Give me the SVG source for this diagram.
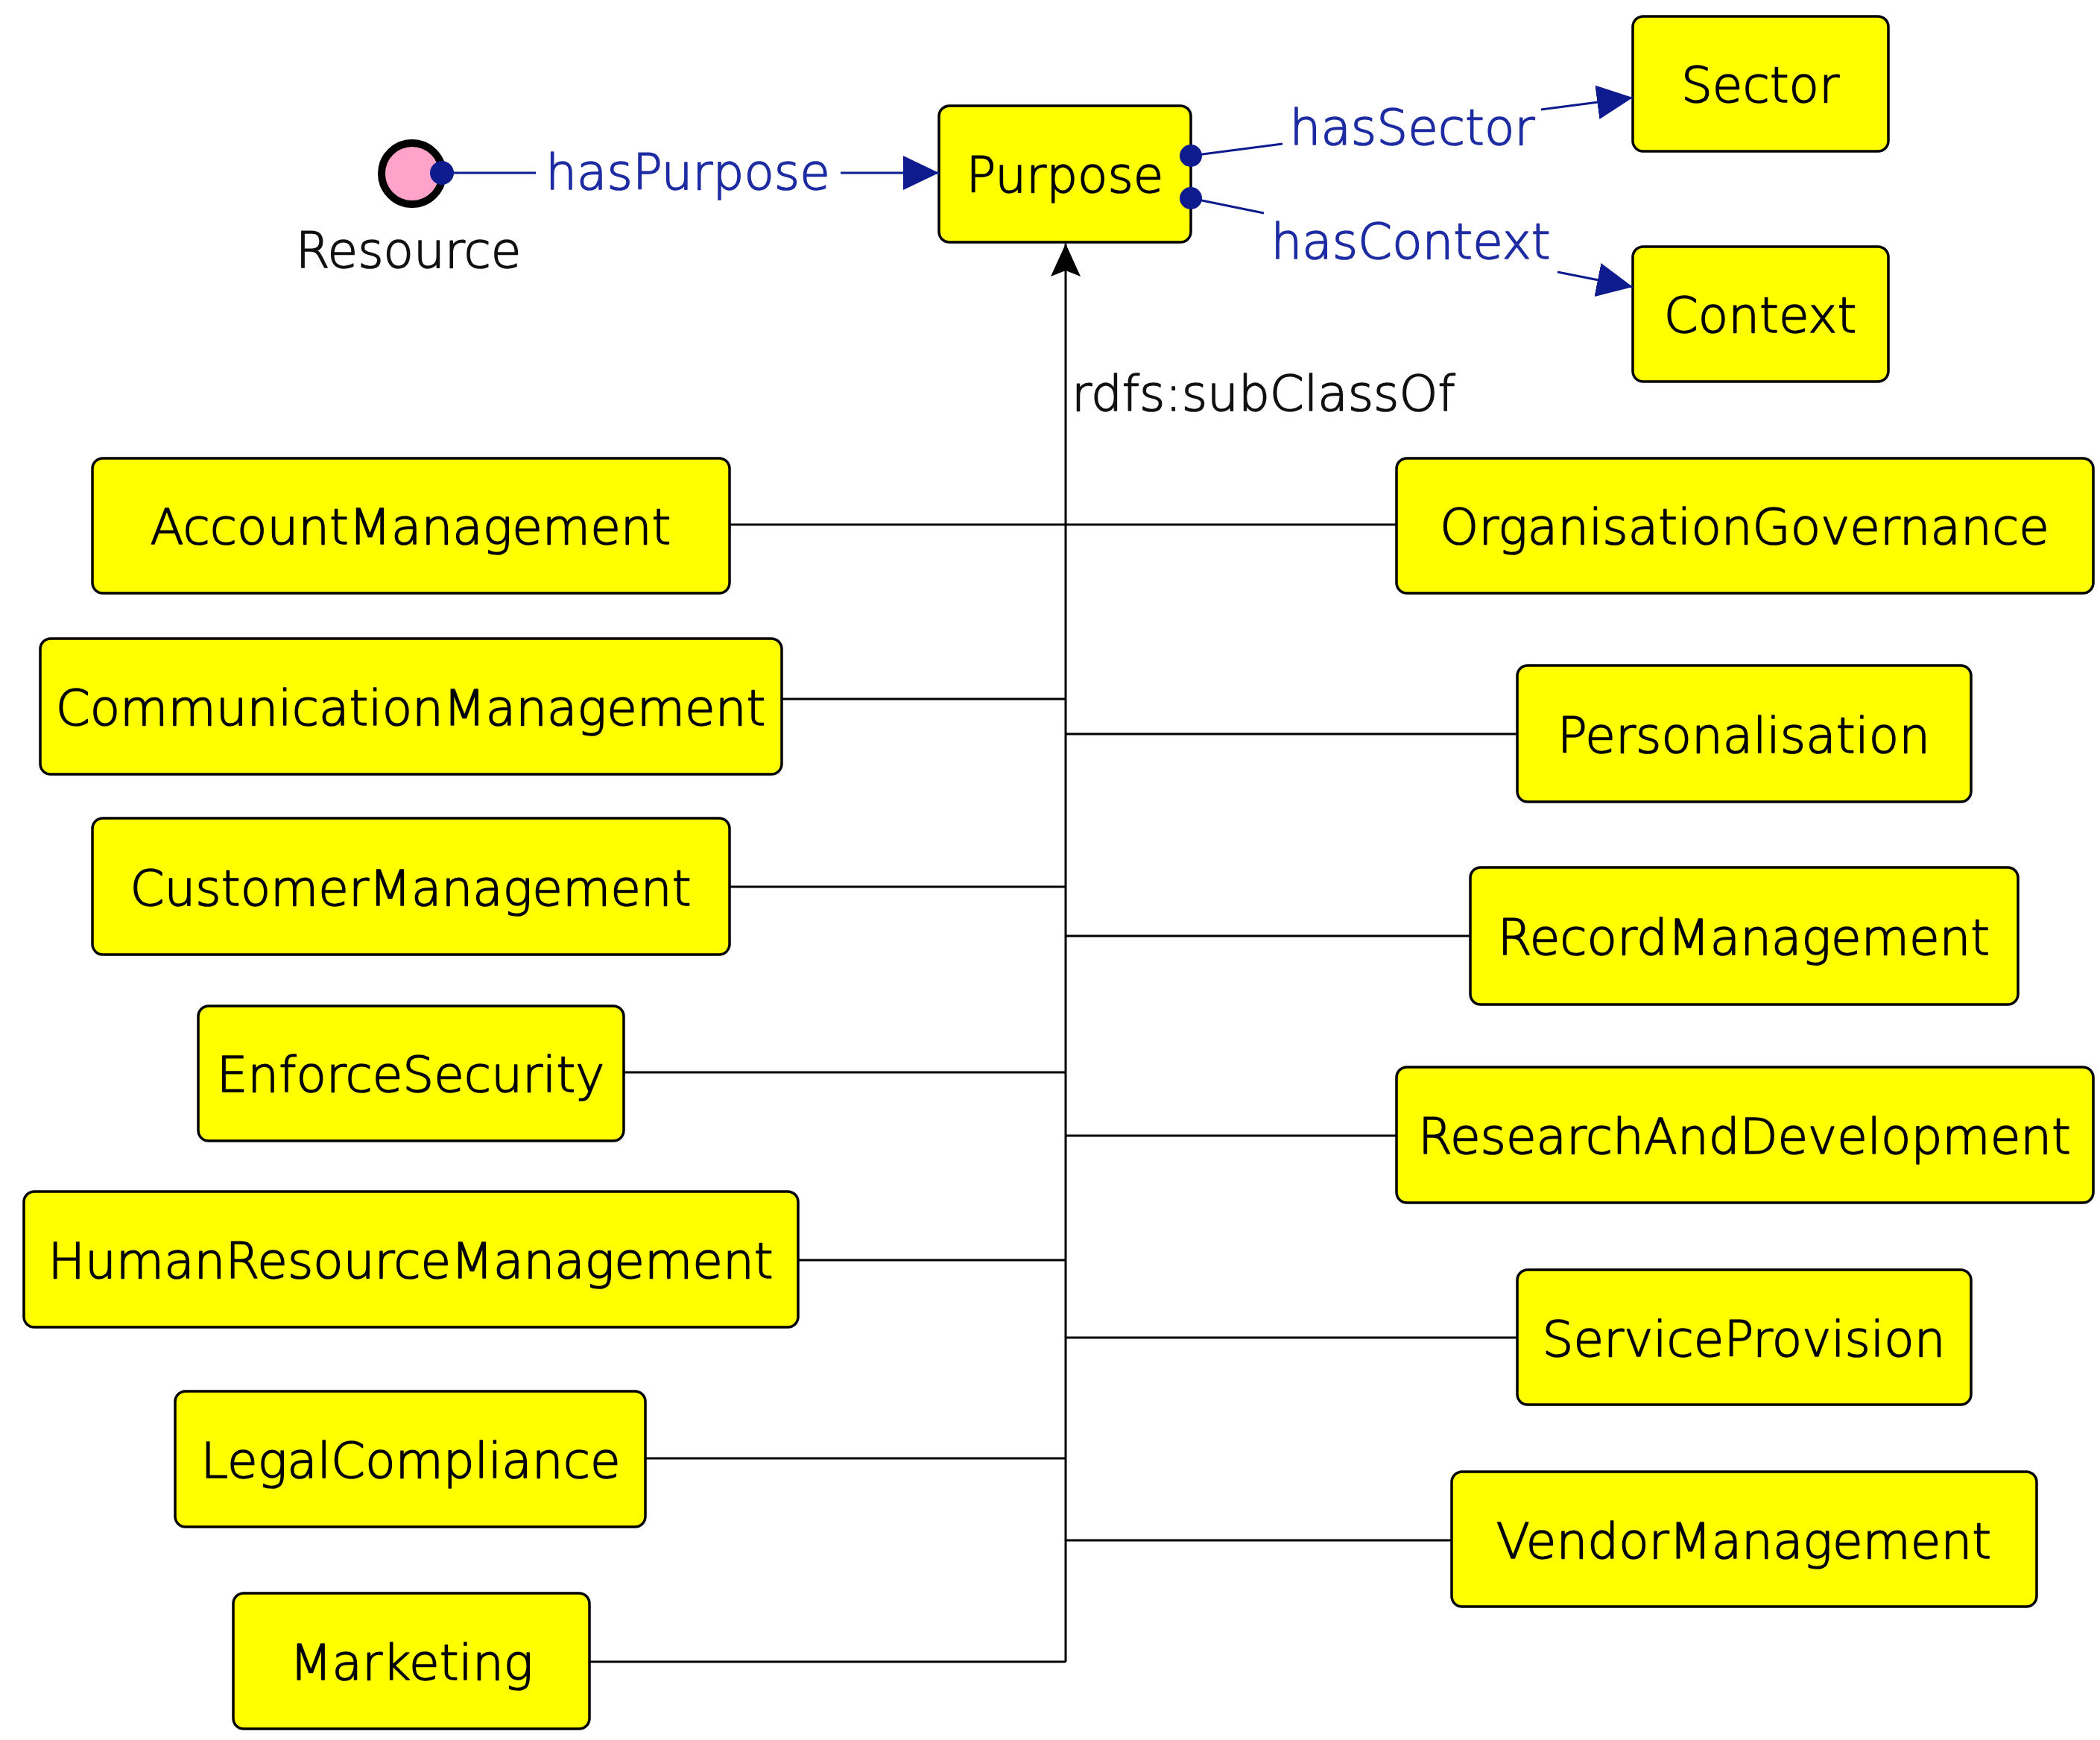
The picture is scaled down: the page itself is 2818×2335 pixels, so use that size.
<svg xmlns="http://www.w3.org/2000/svg" width="2818" height="2335" viewBox="0 0 2818 2335">
  <style>
    .cls rect { fill: #ffff00; stroke: #000; stroke-width: 3.5; }
    .cls text, .lbl { font-family: "DejaVu Sans", "Liberation Sans", sans-serif; font-size: 66px; font-weight: 200; stroke-width: 1.6; stroke-linejoin: round; }
    .cls text { fill: #000; stroke: #000; text-anchor: middle; }
    .sub { fill: none; stroke: #000; stroke-width: 3; }
    .prop { fill: none; stroke: #0d1b8f; stroke-width: 3; }
    .dot { fill: #0d1b8f; }
    .plabel { fill: #1e2ca3; stroke: #1e2ca3; text-anchor: middle; }
    .blabel { fill: #111; stroke: #111; }
  </style>
  <defs>
    <marker id="propHead" viewBox="0 0 48 46" refX="48" refY="23" markerWidth="48" markerHeight="46" markerUnits="userSpaceOnUse" orient="auto">
      <path d="M0,0 L48,23 L0,46 Z" fill="#0d1b8f"/>
    </marker>
    <marker id="subHead" viewBox="0 0 44 42" refX="44" refY="21" markerWidth="44" markerHeight="42" markerUnits="userSpaceOnUse" orient="auto">
      <path d="M0,1 L44,21 L0,41 L8,21 Z" fill="#000"/>
    </marker>
  </defs>

  <!-- individual -->
  <g id="Resource">
    <circle cx="553" cy="233" r="41" fill="#ffa3cb" stroke="#000" stroke-width="10"/>
    <circle class="dot" cx="593" cy="232" r="16"/>
    <text class="lbl blabel" x="548" y="359" text-anchor="middle">Resource</text>
  </g>

  <!-- classes -->
  <g id="Purpose" class="cls"><rect x="1260" y="142" width="338" height="183" rx="14"/><text x="1429" y="258">Purpose</text></g>
  <g id="Sector" class="cls"><rect x="2191" y="22" width="343" height="181" rx="14"/><text x="2362" y="137">Sector</text></g>
  <g id="Context" class="cls"><rect x="2191" y="331" width="343" height="181" rx="14"/><text x="2362" y="446">Context</text></g>

  <g id="AccountManagement" class="cls"><rect x="124" y="615" width="855" height="181" rx="14"/><text x="551" y="730">AccountManagement</text></g>
  <g id="CommunicationManagement" class="cls"><rect x="54" y="857" width="995" height="182" rx="14"/><text x="551" y="973">CommunicationManagement</text></g>
  <g id="CustomerManagement" class="cls"><rect x="124" y="1098" width="855" height="183" rx="14"/><text x="551" y="1215">CustomerManagement</text></g>
  <g id="EnforceSecurity" class="cls"><rect x="266" y="1350" width="571" height="181" rx="14"/><text x="551" y="1465">EnforceSecurity</text></g>
  <g id="HumanResourceManagement" class="cls"><rect x="32" y="1599" width="1039" height="182" rx="14"/><text x="551" y="1715">HumanResourceManagement</text></g>
  <g id="LegalCompliance" class="cls"><rect x="235" y="1867" width="631" height="182" rx="14"/><text x="551" y="1983">LegalCompliance</text></g>
  <g id="Marketing" class="cls"><rect x="313" y="2138" width="478" height="182" rx="14"/><text x="552" y="2254">Marketing</text></g>

  <g id="OrganisationGovernance" class="cls"><rect x="1874" y="615" width="935" height="181" rx="14"/><text x="2341" y="730">OrganisationGovernance</text></g>
  <g id="Personalisation" class="cls"><rect x="2036" y="893" width="609" height="183" rx="14"/><text x="2340" y="1010">Personalisation</text></g>
  <g id="RecordManagement" class="cls"><rect x="1973" y="1164" width="735" height="184" rx="14"/><text x="2340" y="1281">RecordManagement</text></g>
  <g id="ResearchAndDevelopment" class="cls"><rect x="1874" y="1432" width="935" height="182" rx="14"/><text x="2341" y="1548">ResearchAndDevelopment</text></g>
  <g id="ServiceProvision" class="cls"><rect x="2036" y="1704" width="609" height="181" rx="14"/><text x="2340" y="1820">ServiceProvision</text></g>
  <g id="VendorManagement" class="cls"><rect x="1948" y="1975" width="785" height="181" rx="14"/><text x="2340" y="2091">VendorManagement</text></g>

  <!-- connectors -->
  <g id="connectors">
    <!-- rdfs:subClassOf tree -->
    <path class="sub" d="M1430,2230 L1430,327" marker-end="url(#subHead)"/>
    <path class="sub" d="M979,704 L1874,704"/>
    <path class="sub" d="M1049,938 L1430,938"/>
    <path class="sub" d="M979,1190 L1430,1190"/>
    <path class="sub" d="M837,1439 L1430,1439"/>
    <path class="sub" d="M1071,1691 L1430,1691"/>
    <path class="sub" d="M866,1957 L1430,1957"/>
    <path class="sub" d="M791,2230 L1430,2230"/>
    <path class="sub" d="M1430,985 L2036,985"/>
    <path class="sub" d="M1430,1256 L1973,1256"/>
    <path class="sub" d="M1430,1524 L1874,1524"/>
    <path class="sub" d="M1430,1795 L2036,1795"/>
    <path class="sub" d="M1430,2067 L1948,2067"/>
    <text class="lbl blabel" x="1438" y="551">rdfs:subClassOf</text>

    <!-- object properties -->
    <path class="prop" d="M593,232 L719,232"/>
    <path class="prop" d="M1128,232 L1260,232" marker-end="url(#propHead)"/>
    <text class="lbl plabel" x="923" y="254">hasPurpose</text>

    <circle class="dot" cx="1598" cy="209" r="15"/>
    <path class="prop" d="M1598,209 L1721,193"/>
    <path class="prop" d="M2068,147 L2191,131" marker-end="url(#propHead)"/>
    <text class="lbl plabel" x="1895" y="194">hasSector</text>

    <circle class="dot" cx="1598" cy="266" r="15"/>
    <path class="prop" d="M1598,266 L1696,286"/>
    <path class="prop" d="M2090,365 L2191,385" marker-end="url(#propHead)"/>
    <text class="lbl plabel" x="1893" y="347">hasContext</text>
  </g>
</svg>
